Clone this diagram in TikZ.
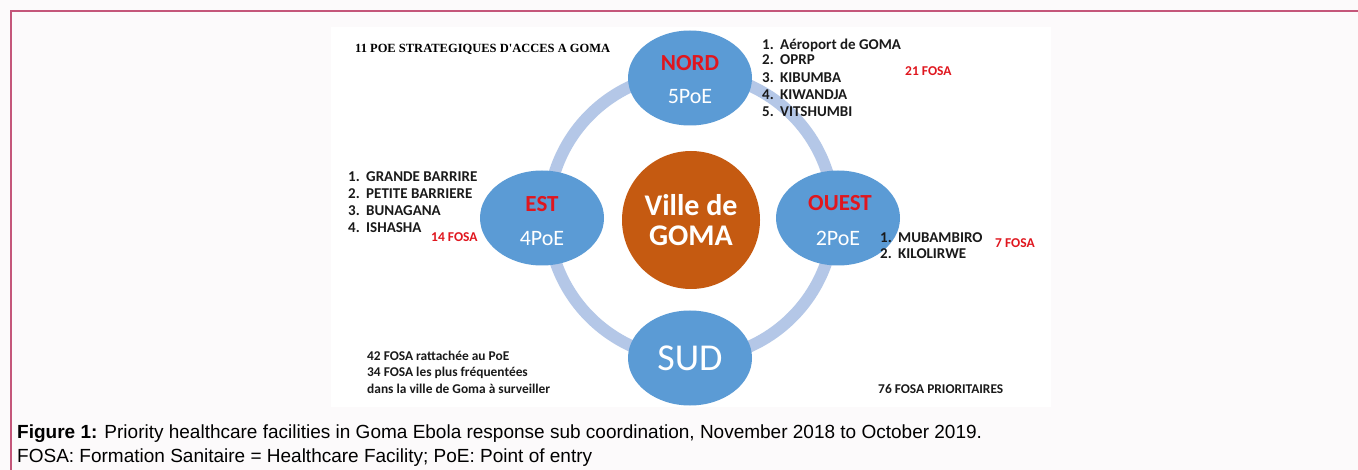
\documentclass[tikz,border=0pt]{standalone}
\usepackage{fontspec}
\setmainfont{Carlito}
\newfontfamily\capfont{Liberation Sans}
\newfontfamily\titlefont{Liberation Serif}
\usetikzlibrary{shapes.geometric}
\definecolor{pagebg}{HTML}{FCFAFB}
\definecolor{frame}{HTML}{C4567A}
\definecolor{blob}{HTML}{5B9BD5}
\definecolor{ringc}{HTML}{B4C7E7}
\definecolor{orangec}{HTML}{C55A11}
\definecolor{redt}{HTML}{E0161E}
\definecolor{txt}{HTML}{1A1A1A}
\tikzset{
  region/.style={ellipse, fill=blob, draw=none, minimum width=124pt, minimum height=95pt, inner sep=0pt},
  hd/.style={text=redt, font=\fontsize{23}{24}\selectfont\bfseries, inner sep=0pt},
  poe/.style={text=white, font=\fontsize{22}{23}\selectfont, inner sep=0pt},
  item/.style={anchor=base west, text=txt, font=\fontsize{15}{16}\selectfont\bfseries, inner sep=0pt},
  fosa/.style={anchor=base west, text=redt, font=\fontsize{13.5}{14}\selectfont\bfseries, inner sep=0pt},
  note/.style={anchor=base west, text=txt, font=\fontsize{13.4}{14}\selectfont\bfseries, inner sep=0pt},
  captext/.style={anchor=base west, text=black, font=\capfont\fontsize{19}{20}\selectfont, inner sep=0pt},
}
\newcommand{\num}[1]{\makebox[18pt][l]{#1}}
\begin{document}
\begin{tikzpicture}[x=1pt,y=-1pt]
\useasboundingbox (0,0) rectangle (1358,470);
\fill[pagebg] (0,0) rectangle (1358,470);
\draw[frame, line width=2pt] (10.5,470) -- (10.5,11.5) -- (1358,11.5);
\fill[white] (331,27) rectangle (1051,407);
% ring
\node[circle, draw=ringc, line width=12pt, minimum size=286pt, inner sep=0pt] (ring) at (691,216) {};
% centre
\node[circle, fill=orangec, minimum size=138pt, inner sep=0pt] (goma) at (691,220) {};
\node[text=white, font=\fontsize{30}{32}\selectfont\bfseries, align=center, inner sep=0pt] (gomat) at (691,220) {Ville de\\[-2pt]GOMA};
% regions
\node[region] (nord) at (690,78) {};
\node[hd] (nordh) at (690,63) {NORD};
\node[poe] (nordp) at (690,97) {5PoE};
\node[region] (est) at (542,218) {};
\node[hd] (esth) at (542,204) {EST};
\node[poe] (estp) at (542,239) {4PoE};
\node[region] (ouest) at (838,218) {};
\node[hd] (ouesth) at (840,203) {OUEST};
\node[poe] (ouestp) at (838,238) {2PoE};
\node[region] (sud) at (690,358) {};
\node[text=white, font=\fontsize{38}{40}\selectfont, inner sep=0pt] (sudt) at (690,358) {SUD};
% title
\node[anchor=base west, font=\titlefont\fontsize{12.5}{13}\selectfont\bfseries, inner sep=0pt] (title) at (355,53) {11 POE STRATEGIQUES D'ACCES A GOMA};
% nord list
\node[item] (n1) at (762,50) {\num{1.}Aéroport de GOMA};
\node[item] (n2) at (762,65) {\num{2.}OPRP};
\node[item] (n3) at (762,83) {\num{3.}KIBUMBA};
\node[item] (n4) at (762,100) {\num{4.}KIWANDJA};
\node[item] (n5) at (762,117) {\num{5.}VITSHUMBI};
\node[fosa] (f21) at (905,76) {21 FOSA};
% est list
\node[item] (e1) at (348,182) {\num{1.}GRANDE BARRIRE};
\node[item] (e2) at (348,199) {\num{2.}PETITE BARRIERE};
\node[item] (e3) at (348,216) {\num{3.}BUNAGANA};
\node[item] (e4) at (348,233) {\num{4.}ISHASHA};
\node[fosa] (f14) at (431,242) {14 FOSA};
% ouest list
\node[item] (o1) at (880,243) {\num{1.}MUBAMBIRO};
\node[item] (o2) at (880,259) {\num{2.}KILOLIRWE};
\node[fosa] (f7) at (995,248) {7 FOSA};
% notes
\node[note] (l1) at (367,361) {42 FOSA rattachée au PoE};
\node[note] (l2) at (367,377) {34 FOSA les plus fréquentées};
\node[note] (l3) at (367,393) {dans la ville de Goma à surveiller};
\node[note] (prio) at (878,393) {76 FOSA PRIORITAIRES};
% caption
\node[captext] (cap1) at (17,438) {\textbf{Figure 1:} Priority healthcare facilities in Goma Ebola response sub coordination, November 2018 to October 2019.};
\node[captext] (cap2) at (17,462) {FOSA: Formation Sanitaire = Healthcare Facility; PoE: Point of entry};
\end{tikzpicture}
\end{document}
